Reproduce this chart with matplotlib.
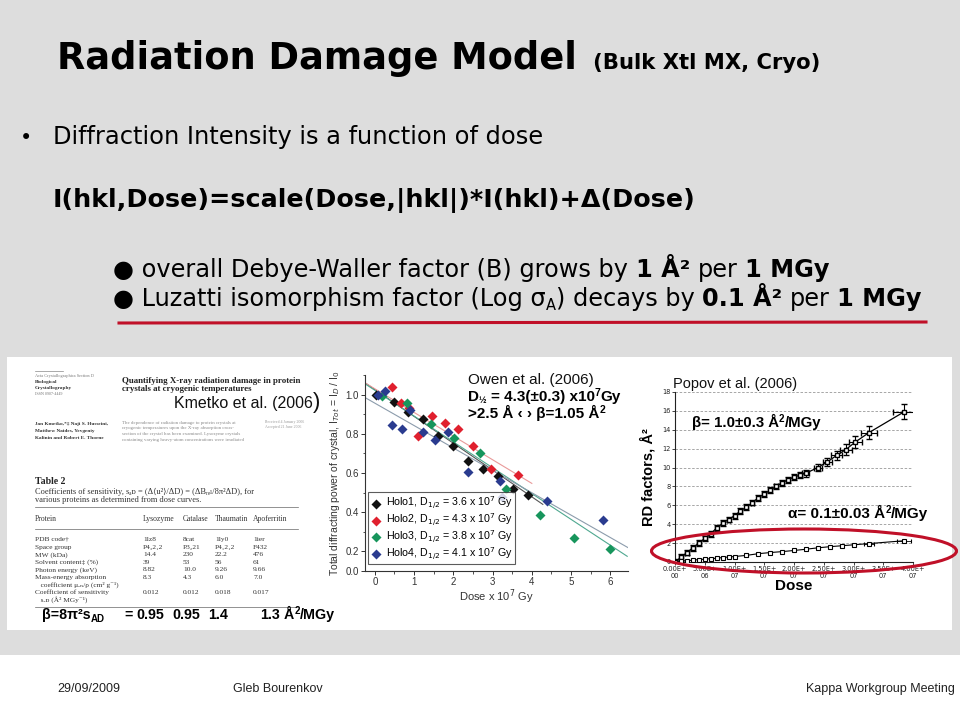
import matplotlib
matplotlib.use("Agg")
import matplotlib.pyplot as plt
from matplotlib.patches import Rectangle, Ellipse
from matplotlib.lines import Line2D
from matplotlib.font_manager import FontProperties
from matplotlib.ticker import MultipleLocator

W, H = 960, 720
BG = "#dddddd"
RED = "#c01028"
VERD = ["DejaVu Sans"]
ARIAL = ["Liberation Sans", "DejaVu Sans"]
NARROW = ["Liberation Sans Narrow", "Liberation Sans", "DejaVu Sans"]
SERIF = ["Liberation Serif", "DejaVu Serif"]

# --- Kmetko et al. (2006), table 2 ---
table_cols = ["Protein", "Lysozyme", "Catalase", "Thaumatin", "Apoferritin"]
table_rows = [
    ["PDB code\u2020", "1lz8", "8cat", "1ly0", "1ier"],
    ["Space group", "P4\u20832\u20812", "P3\u208221", "P4\u20812\u20812", "F432"],
    ["MW (kDa)", "14.4", "230", "22.2", "476"],
    ["Solvent content\u2021 (%)", "39", "53", "56", "61"],
    ["Photon energy (keV)", "8.82", "10.0", "9.26", "9.66"],
    ["Mass-energy absorption", "8.3", "4.3", "6.0", "7.0"],
    ["   coefficient \u03bc\u2091\u2099/\u03c1 (cm\u00b2 g\u207b\u00b9)", "", "", "", ""],
    ["Coefficient of sensitivity", "0.012", "0.012", "0.018", "0.017"],
    ["   s\u2090\u1d05 (\u00c5\u00b2 MGy\u207b\u00b9)", "", "", "", ""],
]
kmetko_beta = [0.95, 0.95, 1.4, 1.3]

# --- Owen et al. (2006): dose (x1e7 Gy) vs relative diffracting power ---
holo_names = ["Holo1", "Holo2", "Holo3", "Holo4"]
holo_d_half = [3.6, 4.3, 3.8, 4.1]
holo1_dose = [0.02, 0.48, 0.85, 1.23, 1.61, 2.00, 2.38, 2.76, 3.14, 3.52, 3.90]
holo1_int = [1.00, 0.96, 0.91, 0.876, 0.79, 0.737, 0.66, 0.62, 0.586, 0.52, 0.49]
holo2_dose = [0.45, 0.66, 0.87, 1.09, 1.46, 1.79, 2.11, 2.51, 2.95, 3.65]
holo2_int = [1.037, 0.958, 0.93, 0.79, 0.89, 0.856, 0.825, 0.737, 0.62, 0.59]
holo3_dose = [0.19, 0.81, 1.42, 2.02, 2.68, 3.33, 4.20, 5.07, 5.99]
holo3_int = [0.995, 0.958, 0.85, 0.78, 0.70, 0.52, 0.384, 0.27, 0.21]
holo4_dose = [0.07, 0.26, 0.45, 0.68, 0.90, 1.23, 1.54, 1.86, 2.38, 3.18, 3.25, 4.38, 5.82]
holo4_int = [1.00, 1.017, 0.847, 0.825, 0.92, 0.807, 0.77, 0.807, 0.605, 0.557, 0.477, 0.457, 0.359]
fit_x0 = [-0.25, -0.25, -0.25, -0.25]
fit_y0 = [1.06, 1.06, 1.055, 0.985]
fit_x1 = [4.28, 4.0, 6.43, 6.47]
fit_y1 = [0.44, 0.547, 0.175, 0.217]
owen_yticks = [0.0, 0.2, 0.4, 0.6, 0.8, 1.0]

# --- Popov et al. (2006): RD factors vs dose (Gy) ---
beta_dose = [0, 1e6, 2e6, 3e6, 4e6, 5e6, 6e6, 7e6, 8e6, 9e6, 10e6, 11e6, 12e6, 13e6,
             14e6, 15e6, 16e6, 17e6, 18e6, 19e6, 20e6, 21e6, 22e6, 24e6, 25.6e6,
             27.2e6, 28.7e6, 30.3e6, 32.6e6, 38.5e6]
beta_B = [0, 0.5, 1.0, 1.5, 2.0, 2.5, 3.0, 3.6, 4.1, 4.5, 4.9, 5.4, 5.8, 6.3, 6.8,
          7.2, 7.6, 8.0, 8.4, 8.7, 9.0, 9.2, 9.4, 10.0, 10.6, 11.3, 11.9, 12.7, 13.7, 15.9]
beta_xerr = [3e5] * 21 + [4e5, 6e5, 7e5, 8e5, 9e5, 1.0e6, 1.1e6, 1.4e6, 1.8e6]
beta_yerr = [0.3] * 21 + [0.3, 0.35, 0.4, 0.45, 0.5, 0.55, 0.6, 0.7, 0.8]
alpha_dose = [0, 1e6, 2e6, 3e6, 4e6, 5e6, 6e6, 7e6, 8e6, 9e6, 10e6, 12e6, 14e6, 16e6,
              18e6, 20e6, 22e6, 24e6, 26e6, 28e6, 30e6, 32.6e6, 38.5e6]
alpha_val = [0, 0.08, 0.13, 0.2, 0.25, 0.3, 0.35, 0.4, 0.47, 0.53, 0.58, 0.7, 0.88,
             1.0, 1.1, 1.22, 1.35, 1.5, 1.62, 1.72, 1.82, 1.95, 2.25]
alpha_xerr = [2e5] * 21 + [8e5, 1.2e6]
popov_xticks = [0, 5e6, 1e7, 1.5e7, 2e7, 2.5e7, 3e7, 3.5e7, 4e7]

fig = plt.figure(figsize=(W / 100, H / 100), dpi=100, facecolor=BG)
R = fig.canvas.get_renderer()


def fx(x):
    return x / W


def fy(y):
    return 1 - y / H


def width(s, family, size, weight):
    fp = FontProperties(family=family, size=size, weight=weight)
    w1 = R.get_text_width_height_descent("|" + s + "|", fp, ismath=False)[0]
    w0 = R.get_text_width_height_descent("||", fp, ismath=False)[0]
    return w1 - w0


def rich(x, y, parts, family=VERD, size=12, color="black", weight="normal"):
    # parts: (text, {size, weight, dy}) drawn one after another on a baseline
    for s, kw in parts:
        kw = dict(kw)
        dy = kw.pop("dy", 0)
        sz = kw.pop("size", size)
        wt = kw.pop("weight", weight)
        lead = len(s) - len(s.lstrip())
        x0 = x + (width(s[:lead], family, sz, wt) if lead else 0)
        fig.text(fx(x0), fy(y + dy), s.strip(), family=family, size=sz, weight=wt,
                 color=color, ha="left", va="baseline", **kw)
        x += width(s, family, sz, wt)


def txt(x, y, s, **kw):
    kw.setdefault("va", "baseline")
    return fig.text(fx(x), fy(y), s, **kw)


# backgrounds
fig.add_artist(Rectangle((fx(7), fy(630)), (952 - 7) / W, (630 - 357) / H,
                         transform=fig.transFigure, fc="white", ec="none", zorder=-2))
fig.add_artist(Rectangle((0, 0), 1, (720 - 655) / H, transform=fig.transFigure,
                         fc="white", ec="none", zorder=-2))

# title + bullets
txt(57, 69, "Radiation Damage Model", family=VERD, size=26.5, weight="bold")
txt(593, 69, "(Bulk Xtl MX, Cryo)", family=VERD, size=15.2, weight="bold")
txt(20, 144, "\u2022", family=VERD, size=15)
txt(53, 144, "Diffraction Intensity is a function of dose", family=VERD, size=17.4)
txt(53, 207, "I(hkl,Dose)=scale(Dose,|hkl|)*I(hkl)+\u0394(Dose)", family=VERD,
    size=18.3, weight="bold")
rich(113, 277, [("\u25cf overall Debye-Waller factor (B) grows by ", {}),
                ("1 \u00c5\u00b2", {"weight": "bold"}), (" per ", {}),
                ("1 MGy", {"weight": "bold"})], size=17.3)
rich(113, 306, [("\u25cf Luzatti isomorphism factor (Log \u03c3", {}),
                ("A", {"size": 10.5, "dy": 4}), (") decays by ", {}),
                ("0.1 \u00c5\u00b2", {"weight": "bold"}), (" per ", {}),
                ("1 MGy", {"weight": "bold"})], size=17.3)
fig.add_artist(Line2D([fx(119), fx(926)], [fy(323), fy(322)], color=RED, lw=2.2,
                      transform=fig.transFigure))

# --- Kmetko paper excerpt ---
fig.add_artist(Line2D([fx(35), fx(63)], [fy(371), fy(371)], color="#888888", lw=0.5,
                      transform=fig.transFigure))
txt(35, 377, "Acta Crystallographica Section D", family=SERIF, size=3.2, color="#777777")
txt(35, 383, "Biological", family=SERIF, size=3.8, weight="bold", color="#333333")
txt(35, 389, "Crystallography", family=SERIF, size=3.8, weight="bold", color="#333333")
txt(35, 395, "ISSN 0907-4449", family=SERIF, size=3, color="#777777")
txt(122, 383, "Quantifying X-ray radiation damage in protein", family=SERIF, size=6.4,
    weight="bold", color="#222222")
txt(122, 391, "crystals at cryogenic temperatures", family=SERIF, size=6.4,
    weight="bold", color="#222222")
rich(174, 408, [("Kmetko et al. (2006", {}), (")", {"size": 16})], family=ARIAL,
     size=11.5, color="#111111")
for i, s in enumerate(["Jan Kmetko,*\u2021 Naji S. Husseini,", "Matthew Naides, Yevgeniy",
                       "Kalinin and Robert E. Thorne"]):
    txt(35, 425 + 7 * i, s, family=SERIF, size=3.8, weight="bold", color="#333333")
for i, s in enumerate(["The dependence of radiation damage to protein crystals at",
                       "cryogenic temperatures upon the X-ray absorption cross-",
                       "section of the crystal has been examined. Lysozyme crystals",
                       "containing varying heavy-atom concentrations were irradiated"]):
    txt(122, 424 + 5.5 * i, s, family=SERIF, size=3.5, color="#888888")
txt(265, 423, "Received 4 January 2006", family=SERIF, size=2.8, color="#999999")
txt(265, 428, "Accepted 21 June 2006", family=SERIF, size=2.8, color="#999999")
txt(35, 484, "Table 2", family=SERIF, size=7, weight="bold", color="#222222")
txt(35, 494, "Coefficients of sensitivity, s\u2090\u1d05 = (\u0394\u27e8u\u00b2\u27e9/\u0394D)"
    " = (\u0394B\u1d63\u2091\u2097/8\u03c0\u00b2\u0394D), for", family=SERIF, size=6,
    color="#333333")
txt(35, 502, "various proteins as determined from dose curves.", family=SERIF, size=6,
    color="#333333")
col_x = [35, 143, 183, 215, 253]
for yy in (507, 529, 607):
    fig.add_artist(Line2D([fx(35), fx(298)], [fy(yy), fy(yy)], color="#666666", lw=0.5,
                          transform=fig.transFigure))
for c, s in zip(col_x, table_cols):
    txt(c, 521, s, family=SERIF, size=5.5, color="#333333")
for r, row in enumerate(table_rows):
    for c, s in zip(col_x, row):
        txt(c, 541 + 7.6 * r, s, family=SERIF, size=5.3, color="#333333")
rich(42, 619, [("\u03b2=8\u03c0\u00b2s", {}), ("AD", {"size": 7, "dy": 3})], family=ARIAL,
     size=10.3, color="black", weight="bold")
txt(124, 619, "=", family=ARIAL, size=10.3, weight="bold")
for xx, v in zip([136, 172, 208, 260], kmetko_beta):
    txt(xx, 619, f"{v:g}", family=ARIAL, size=10.3, weight="bold")
rich(284, 619, [("\u00c5", {}), ("2", {"size": 7, "dy": -5}), ("/MGy", {})], family=ARIAL,
     size=10.3, weight="bold")

# --- Owen et al. scatter ---
ax1 = fig.add_axes([fx(365), fy(571), (628 - 365) / W, (571 - 375) / H])
ax1.set_facecolor("none")
holo_colors = ["#111111", "#e0202e", "#17955c", "#2a3b8f"]
fit_colors = ["#555555", "#e99a9a", "#4fa890", "#8c9cac"]
series = [(holo1_dose, holo1_int), (holo2_dose, holo2_int),
          (holo3_dose, holo3_int), (holo4_dose, holo4_int)]
for i in range(4):
    ax1.plot([fit_x0[i], fit_x1[i]], [fit_y0[i], fit_y1[i]], color=fit_colors[i], lw=0.8,
             zorder=2)
for (d, v), col, name, dh in zip(series, holo_colors, holo_names, holo_d_half):
    ax1.scatter(d, v, marker="D", s=26, color=col, linewidths=0, zorder=3,
                label=f"{name}, D$_{{1/2}}$ = {dh} x 10$^7$ Gy")
ax1.set_xlim(-0.25, 6.45)
ax1.set_ylim(0.1, 1.1)
ax1.set_yticks([0.1] + owen_yticks[1:], labels=[f"{v:.1f}" for v in owen_yticks])
ax1.xaxis.set_major_locator(MultipleLocator(1))
ax1.xaxis.set_minor_locator(MultipleLocator(0.5))
ax1.yaxis.set_minor_locator(MultipleLocator(0.1))
for s in ("top", "right"):
    ax1.spines[s].set_visible(False)
for s in ("left", "bottom"):
    ax1.spines[s].set_color("#333333")
    ax1.spines[s].set_linewidth(0.8)
ax1.tick_params(direction="out", length=3, width=0.7, labelsize=7, colors="#333333",
                pad=1.5)
ax1.tick_params(which="minor", direction="out", length=1.8, width=0.6, colors="#333333")
for lab in ax1.get_xticklabels() + ax1.get_yticklabels():
    lab.set_family(ARIAL)
ax1.set_xlabel("Dose x 10$^7$ Gy", family=ARIAL, size=8, color="#333333", labelpad=0)
ax1.set_ylabel("Total diffracting power of crystal, I$_{Tot}$ = I$_D$ / I$_0$",
               family=ARIAL, size=7.5, color="#333333", labelpad=2)
leg = ax1.legend(loc="lower left", bbox_to_anchor=(0.01, 0.035), frameon=True,
                 fancybox=False, edgecolor="#333333", prop={"family": ARIAL, "size": 7.7},
                 handletextpad=0.3, borderpad=0.2, labelspacing=0.0, handlelength=1.2,
                 borderaxespad=0)
leg.get_frame().set_linewidth(0.8)

txt(468, 384, "Owen et al. (2006)", family=ARIAL, size=11, color="#111111")
rich(468, 401, [("D", {}), ("\u00bd", {"size": 6.5, "dy": 2}),
                (" = 4.3(\u00b10.3) x10", {}), ("7", {"size": 7.5, "dy": -5}),
                ("Gy", {})], family=ARIAL, size=11, color="black", weight="bold")
rich(468, 418, [(">2.5 \u00c5 \u2039 \u203a \u03b2=1.05 \u00c5", {}),
                ("2", {"size": 7.5, "dy": -5})], family=ARIAL, size=11, color="black",
     weight="bold")

# --- Popov et al. curves ---
ax2 = fig.add_axes([fx(675), fy(562), (913 - 675) / W, (562 - 392) / H])
ax2.set_facecolor("none")
ax2.errorbar(beta_dose, beta_B, xerr=beta_xerr, yerr=beta_yerr, fmt="-", color="black",
             lw=0.9, elinewidth=0.8, capsize=2.3, capthick=0.8, marker="s", ms=3.2,
             mfc="white", mec="black", mew=1.0, zorder=3)
ax2.errorbar(alpha_dose, alpha_val, xerr=alpha_xerr, yerr=0.1, fmt="-", color="black",
             lw=0.8, elinewidth=0.6, capsize=1.6, capthick=0.6, marker="s", ms=2.2,
             mfc="white", mec="black", mew=0.8, zorder=3)
ax2.set_xlim(0, 4e7)
ax2.set_ylim(0, 18)
ax2.yaxis.set_major_locator(MultipleLocator(2))
ax2.set_xticks(popov_xticks, labels=[f"{v:.2E}".replace("+", "+\n") for v in popov_xticks])
ax2.yaxis.grid(True, color="#999999", lw=0.6, ls=(0, (3, 2)))
ax2.set_axisbelow(True)
for s in ("top", "right"):
    ax2.spines[s].set_visible(False)
for s in ("left", "bottom"):
    ax2.spines[s].set_color("#222222")
    ax2.spines[s].set_linewidth(0.8)
ax2.tick_params(direction="out", length=2, width=0.6, labelsize=4.8, colors="#222222",
                pad=1)
ax2.set_xlabel("Dose", family=ARIAL, size=11, weight="bold", labelpad=0)
ax2.set_ylabel("RD factors, \u00c5\u00b2", family=ARIAL, size=10.5, weight="bold",
               labelpad=5)
txt(673, 388, "Popov et al. (2006)", family=ARIAL, size=10.5, color="#111111")
rich(692, 427, [("\u03b2= 1.0\u00b10.3 \u00c5", {}), ("2", {"size": 7, "dy": -5}),
                ("/MGy", {})], family=ARIAL, size=10.8, weight="bold")
rich(788, 518, [("\u03b1= 0.1\u00b10.03 \u00c5", {}), ("2", {"size": 7, "dy": -5}),
                ("/MGy", {})], family=ARIAL, size=11, weight="bold")
fig.add_artist(Ellipse((fx(804), fy(551)), 305 / W, 44 / H, transform=fig.transFigure,
                       fill=False, ec=RED, lw=2.2, zorder=10))

# footer
txt(57, 692, "29/09/2009", family=NARROW, size=9, color="#222222")
txt(233, 692, "Gleb Bourenkov", family=NARROW, size=9, color="#222222")
txt(955, 692, "Kappa Workgroup Meeting", family=NARROW, size=9, color="#222222", ha="right")

fig.savefig("out.png", dpi=100, facecolor=BG)
